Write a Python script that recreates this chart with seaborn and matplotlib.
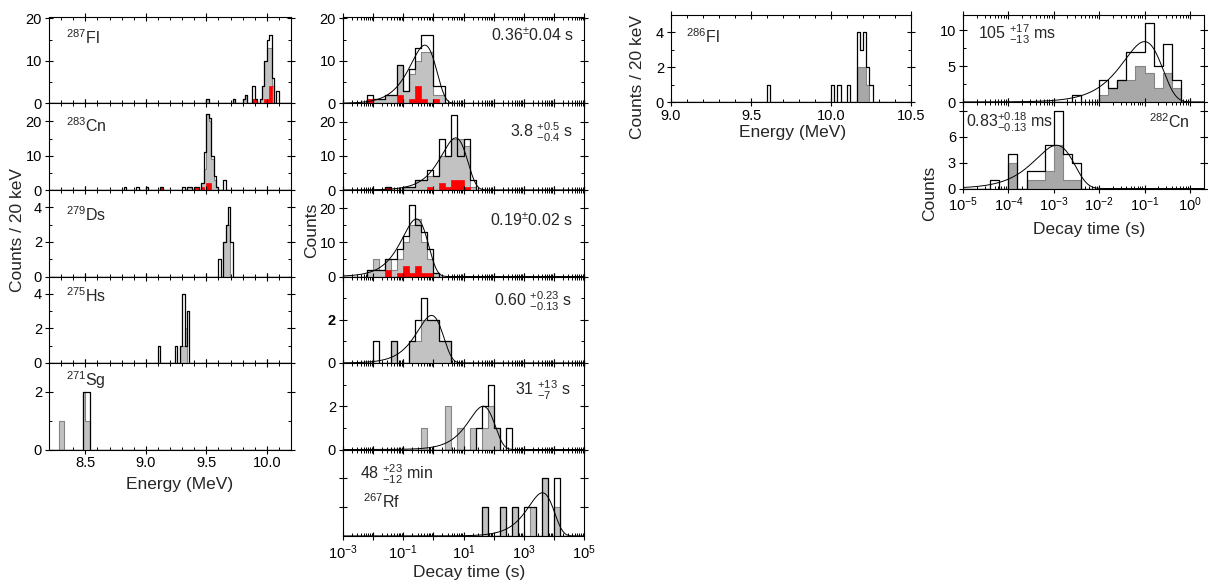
import numpy as np
import matplotlib
matplotlib.use("Agg")
import matplotlib.pyplot as plt
import seaborn as sns
from matplotlib.ticker import MultipleLocator, FixedLocator, FuncFormatter, NullFormatter, LogLocator

# ---------------- energy spectra: bin start (MeV), 20 keV bins ----------------
fl287_e_bin  = [9.50, 9.72, 9.80, 9.82, 9.88, 9.90, 9.94, 9.96, 9.98, 10.00, 10.02, 10.04, 10.08]
fl287_e_all  = [1, 1, 1, 2, 4, 1, 1, 4, 10, 15, 16, 6, 3]
fl287_e_grey = [1, 1, 1, 2, 1, 1, 1, 4, 10, 13, 13, 4, 0]
fl287_e_red  = [0, 0, 0, 0, 1, 1, 0, 0, 1, 1, 4, 0, 0]

cn283_e_bin  = [8.82, 8.92, 9.00, 9.12, 9.30, 9.34, 9.36, 9.40, 9.42, 9.46, 9.48, 9.50, 9.52, 9.54, 9.56, 9.58, 9.64]
cn283_e_all  = [1, 1, 1, 1, 1, 1, 1, 1, 1, 2, 11, 22, 21, 10, 4, 1, 3]
cn283_e_grey = [0, 0, 0, 1, 0, 1, 1, 1, 1, 2, 6, 22, 20, 9, 3, 1, 0]
cn283_e_red  = [0, 0, 0, 1, 0, 0, 0, 1, 1, 1, 0, 2, 2, 0, 0, 0, 0]

ds279_e_bin  = [9.60, 9.64, 9.66, 9.68, 9.70]
ds279_e_all  = [1, 2, 3, 4, 2]
ds279_e_grey = [0, 2, 3, 3, 0]

hs275_e_bin  = [9.10, 9.24, 9.28, 9.30, 9.32, 9.34]
hs275_e_all  = [1, 1, 1, 4, 1, 3]
hs275_e_grey = [0, 0, 1, 1, 2, 0]

sg271_e_bin  = [8.28, 8.30, 8.48, 8.50, 8.52]
sg271_e_all  = [0, 0, 2, 2, 2]
sg271_e_grey = [1, 1, 2, 1, 1]

fl286_e_bin  = [9.60, 10.00, 10.04, 10.10, 10.16, 10.18, 10.20, 10.22, 10.24]
fl286_e_all  = [1, 1, 1, 1, 4, 3, 4, 2, 1]
fl286_e_grey = [0, 0, 0, 0, 2, 2, 2, 1, 0]

# ---------------- decay times: bin start (log10 s), 0.2-decade bins ----------------
fl287_t_bin  = [-2.2, -2.0, -1.8, -1.6, -1.4, -1.2, -1.0, -0.8, -0.6, -0.4, -0.2, 0.0, 0.2]
fl287_t_all  = [2, 1, 1, 2, 2, 9, 3, 8, 13, 16, 16, 4, 4]
fl287_t_grey = [1, 1, 1, 2, 2, 9, 3, 7, 10, 12, 12, 2, 2]
fl287_t_red  = [1, 0, 0, 0, 0, 2, 0, 1, 4, 1, 0, 1, 0]

cn283_t_bin  = [-1.6, -1.0, -0.8, -0.6, -0.4, -0.2, 0.0, 0.2, 0.4, 0.6, 0.8, 1.0, 1.2]
cn283_t_all  = [1, 1, 1, 3, 3, 6, 4, 15, 10, 22, 10, 15, 3]
cn283_t_grey = [1, 1, 1, 3, 3, 4, 4, 10, 10, 15, 15, 13, 1]
cn283_t_red  = [1, 0, 0, 0, 0, 1, 0, 2, 1, 3, 3, 1, 0]

ds279_t_bin  = [-2.2, -2.0, -1.8, -1.6, -1.4, -1.2, -1.0, -0.8, -0.6, -0.4, -0.2, 0.0]
ds279_t_all  = [2, 2, 2, 5, 5, 8, 12, 21, 15, 13, 8, 1]
ds279_t_grey = [2, 5, 2, 5, 2, 5, 10, 15, 17, 10, 5, 1]
ds279_t_red  = [0, 0, 0, 2, 0, 1, 3, 1, 3, 1, 1, 0]

hs275_t_bin  = [-2.0, -1.4, -0.8, -0.6, -0.4, -0.2, 0.0, 0.2, 0.4]
hs275_t_all  = [1, 1, 1, 2, 3, 2, 2, 1, 1]
hs275_t_grey = [0, 1, 1, 1, 2, 2, 2, 1, 1]

sg271_t_bin  = [-0.4, 0.4, 0.8, 1.2, 1.4, 1.6, 1.8, 2.0, 2.4]
sg271_t_all  = [0, 0, 0, 0, 1, 2, 3, 1, 1]
sg271_t_grey = [1, 2, 1, 1, 0, 1, 2, 1, 0]

rf267_t_bin  = [1.6, 2.2, 2.6, 3.0, 3.2, 3.6, 4.0]
rf267_t_all  = [1, 1, 1, 1, 1, 2, 2]
rf267_t_grey = [1, 1, 1, 0, 1, 2, 1]

fl286_t_bin  = [-2.6, -2.0, -1.8, -1.6, -1.4, -1.2, -1.0, -0.8, -0.6, -0.4]
fl286_t_all  = [1, 3, 2, 3, 7, 7, 11, 5, 8, 3]
fl286_t_grey = [0, 1, 2, 3, 3, 5, 4, 2, 4, 2]

cn282_t_bin  = [-4.4, -4.0, -3.6, -3.4, -3.2, -3.0, -2.8, -2.6]
cn282_t_all  = [1, 4, 2, 2, 5, 9, 4, 3]
cn282_t_grey = [0, 3, 1, 1, 2, 5, 1, 1]

# fit curves: mean life (s) and peak height (counts)
fit_tau  = {"fl287": 0.52, "cn283": 5.5, "ds279": 0.274, "hs275": 0.87,
            "sg271": 44.7, "rf267": 4155.0, "fl286": 0.10, "cn282": 1.15e-3}
fit_peak = {"fl287": 13.7, "cn283": 15.3, "ds279": 16.9, "hs275": 2.2,
            "sg271": 2.0, "rf267": 1.5, "fl286": 8.4, "cn282": 5.0}

# ---------------- style ----------------
sns.set_theme(style="ticks")
plt.rcParams.update({
    "axes.linewidth": 0.8,
    "axes.edgecolor": "black",
    "xtick.color": "black", "ytick.color": "black",
    "mathtext.fontset": "custom",
    "mathtext.rm": "Liberation Sans",
    "mathtext.it": "Liberation Sans:italic",
    "mathtext.bf": "Liberation Sans:bold",
    "mathtext.sf": "Liberation Sans",
})
plt.rcParams["font.family"] = ["Liberation Sans", "DejaVu Sans"]

W, H = 1208, 580
fig = plt.figure(figsize=(W / 100, H / 100), dpi=100)
fig.patch.set_facecolor("white")

GREY = "#c2c2c2"
GREY_R = "#a8a8a8"
GREY_EDGE = "#858585"
RED = "#ff0000"
TICK_FS = 10.5
ANN_FS = 11.5
LAB_FS = 12.5


def axes_px(x0, y0, x1, y1):
    ax = fig.add_axes([x0 / W, 1 - y1 / H, (x1 - x0) / W, (y1 - y0) / H])
    ax.set_facecolor("white")
    return ax


def draw_hists(ax, starts, width, edges, all_c, grey_c, red_c=None, log=False, grey=GREY):
    x = np.asarray(starts, float) + width / 2
    if log:
        x = 10 ** x
    common = dict(x=list(x), bins=[float(e) for e in edges], element="step", ax=ax, legend=False)
    if log:
        common["log_scale"] = True
    if sum(grey_c) > 0:
        sns.histplot(weights=list(grey_c), fill=True, color=grey, edgecolor=GREY_EDGE,
                     alpha=1, linewidth=0.8, **common)
    if red_c is not None and sum(red_c) > 0:
        sns.histplot(weights=list(red_c), fill=True, color=RED, edgecolor=RED,
                     alpha=1, linewidth=0.5, **common)
    if sum(all_c) > 0:
        sns.histplot(weights=list(all_c), fill=False, color="black", linewidth=0.9, **common)
    ax.set_xlabel("")
    ax.set_ylabel("")


def draw_fit(ax, key, lo, hi):
    t = np.logspace(lo, hi, 500)
    tau, h = fit_tau[key], fit_peak[key]
    y = h * (t / tau) * np.exp(1 - t / tau)
    sns.lineplot(x=t, y=y, ax=ax, color="black", linewidth=0.7, legend=False)


def common_ticks(ax):
    ax.tick_params(which="major", direction="inout", length=6, width=0.8,
                   top=True, right=True, labelsize=TICK_FS, pad=2)
    ax.tick_params(which="minor", direction="in", length=2.5, width=0.7,
                   top=True, right=True)


def y_ticks(ax, ymax, major, minor, labels=None, bold_label=None):
    ax.set_ylim(0, ymax)
    ax.yaxis.set_major_locator(FixedLocator(major))
    ax.yaxis.set_minor_locator(FixedLocator(minor))
    if labels is not None:
        ax.set_yticklabels(labels)
    if bold_label is not None:
        ax.set_yticklabels([str(m) for m in major])
        for lab in ax.get_yticklabels():
            if lab.get_text() == bold_label:
                lab.set_fontweight("bold")


def energy_x(ax, lo, hi, show):
    ax.set_xlim(lo, hi)
    ax.xaxis.set_major_locator(MultipleLocator(0.5))
    ax.xaxis.set_minor_locator(MultipleLocator(0.1))
    ax.xaxis.set_major_formatter(FuncFormatter(lambda v, p: f"{v:.1f}"))
    ax.tick_params(axis="x", labelbottom=show)


def log_x(ax, e_lo, e_hi, xmax, odd_only, show):
    ax.set_xscale("log")
    ax.set_xlim(10.0 ** e_lo, xmax)
    ax.xaxis.set_major_locator(FixedLocator(10.0 ** np.arange(e_lo, e_hi + 1)))
    ax.xaxis.set_minor_locator(LogLocator(base=10, subs=np.arange(2, 10), numticks=100))
    ax.xaxis.set_minor_formatter(NullFormatter())

    def fmt(v, p):
        e = int(round(np.log10(v)))
        if odd_only and e % 2 == 0:
            return ""
        return f"$10^{{{e}}}$"
    ax.xaxis.set_major_formatter(FuncFormatter(fmt))
    ax.tick_params(axis="x", labelbottom=show, labelsize=10.5)


def ftext(x, y, s, ha="left", size=ANN_FS, **kw):
    fig.text(x / W, 1 - y / H, s, ha=ha, va="baseline", fontsize=size, **kw)


# ---------------- left column: energy spectra ----------------
E_EDGES = np.round(np.arange(8.2, 10.2001, 0.02), 3)
tops = [17, 103.5, 190, 276.5, 363, 449.5]
left_specs = [
    (fl287_e_bin, fl287_e_all, fl287_e_grey, fl287_e_red, 20.3, [0, 10, 20], [5, 15]),
    (cn283_e_bin, cn283_e_all, cn283_e_grey, cn283_e_red, 25.2, [0, 10, 20], [5, 15]),
    (ds279_e_bin, ds279_e_all, ds279_e_grey, None, 5.0, [0, 2, 4], [1, 3]),
    (hs275_e_bin, hs275_e_all, hs275_e_grey, None, 5.0, [0, 2, 4], [1, 3]),
    (sg271_e_bin, sg271_e_all, sg271_e_grey, None, 3.0, [0, 2], [1]),
]
for i, (b, a, g, r, ymax, maj, mnr) in enumerate(left_specs):
    ax = axes_px(49, tops[i], 291, tops[i + 1])
    draw_hists(ax, b, 0.02, E_EDGES, a, g, r)
    common_ticks(ax)
    energy_x(ax, 8.2, 10.2, i == 4)
    y_ticks(ax, ymax, maj, mnr)
    ax.tick_params(axis="x", labelsize=10.5)

for s, y in [("$^{287}$Fl", 44), ("$^{283}$Cn", 132), ("$^{279}$Ds", 221),
             ("$^{275}$Hs", 302), ("$^{271}$Sg", 386)]:
    ftext(66, y, s)

# ---------------- middle column: decay times ----------------
T_EDGES = np.round(np.arange(-3, 5.0001, 0.2), 2)
mid_specs = [
    ("fl287", fl287_t_bin, fl287_t_all, fl287_t_grey, fl287_t_red, 20.3, [0, 10, 20], [5, 15], None, None),
    ("cn283", cn283_t_bin, cn283_t_all, cn283_t_grey, cn283_t_red, 25.4, [0, 10, 20], [5, 15], None, None),
    ("ds279", ds279_t_bin, ds279_t_all, ds279_t_grey, ds279_t_red, 25.4, [0, 10, 20], [5, 15], None, None),
    ("hs275", hs275_t_bin, hs275_t_all, hs275_t_grey, None, 4.0, [0, 2], [1, 3], None, "2"),
    ("sg271", sg271_t_bin, sg271_t_all, sg271_t_grey, None, 4.0, [0, 2], [1, 3], None, None),
    ("rf267", rf267_t_bin, rf267_t_all, rf267_t_grey, None, 3.0, [1, 2], [], ["", ""], None),
]
for i, (key, b, a, g, r, ymax, maj, mnr, labs, bold) in enumerate(mid_specs):
    ax = axes_px(343, tops[i], 584, tops[i] + 86.5)
    draw_hists(ax, b, 0.2, T_EDGES, a, g, r, log=True)
    draw_fit(ax, key, -3, 5)
    common_ticks(ax)
    log_x(ax, -3, 5, 1e5, True, i == 5)
    y_ticks(ax, ymax, maj, mnr, labs, bold)

ftext(574, 41, "0.36$^{\u00b1}$0.04 s", ha="right")
ftext(573, 137, "3.8 $^{+0.5}_{-0.4}$ s", ha="right")
ftext(573, 226, "0.19$^{\u00b1}$0.02 s", ha="right")
ftext(572, 306, "0.60 $^{+0.23}_{-0.13}$ s", ha="right")
ftext(571, 395, "31 $^{+13}_{-7}$ s", ha="right")
ftext(360, 480, "48 $^{+23}_{-12}$ min")
ftext(363, 508, "$^{267}$Rf")

# ---------------- right: 286Fl energy ----------------
E_EDGES_R = np.round(np.arange(9.0, 10.5001, 0.02), 3)
ax = axes_px(671, 15, 911, 102)
draw_hists(ax, fl286_e_bin, 0.02, E_EDGES_R, fl286_e_all, fl286_e_grey, grey=GREY_R)
common_ticks(ax)
energy_x(ax, 9.0, 10.5, True)
ax.tick_params(axis="x", labelsize=10.5)
y_ticks(ax, 5.0, [0, 2, 4], [1, 3])
ftext(686, 43, "$^{286}$Fl")

# ---------------- right: decay times 286Fl / 282Cn ----------------
T_EDGES_R = np.round(np.arange(-5, 0.4001, 0.2), 2)
right_specs = [
    ("fl286", fl286_t_bin, fl286_t_all, fl286_t_grey, 12.1, [0, 5, 10], [2.5, 7.5], None, 15, 102),
    ("cn282", cn282_t_bin, cn282_t_all, cn282_t_grey, 10.0, [0, 3, 6, 9], [], ["0", "3", "6", ""], 102, 188.5),
]
for i, (key, b, a, g, ymax, maj, mnr, labs, y0, y1) in enumerate(right_specs):
    ax = axes_px(963, y0, 1204, y1)
    draw_hists(ax, b, 0.2, T_EDGES_R, a, g, log=True, grey=GREY_R)
    draw_fit(ax, key, -5, 0.31)
    common_ticks(ax)
    log_x(ax, -5, 0, 10 ** 0.31, False, i == 1)
    y_ticks(ax, ymax, maj, mnr, labs)

ftext(978, 39, "105 $^{+17}_{-13}$ ms")
ftext(966, 128, "0.83$^{+0.18}_{-0.13}$ ms")
ftext(1190, 128, "$^{282}$Cn", ha="right")

# ---------------- axis titles ----------------
def ctext(x, y, s, rot=0):
    fig.text(x / W, 1 - y / H, s, ha="center", va="center", rotation=rot, fontsize=LAB_FS)

ctext(18, 230, "Counts / 20 keV", 90)
ctext(312, 230, "Counts", 90)
ctext(180, 485, "Energy (MeV)")
ctext(469, 572, "Decay time (s)")
ctext(638, 77, "Counts / 20 keV", 90)
ctext(793, 132, "Energy (MeV)")
ctext(930, 193, "Counts", 90)
ctext(1089, 229, "Decay time (s)")

fig.savefig("out.png", dpi=100, facecolor="white")
